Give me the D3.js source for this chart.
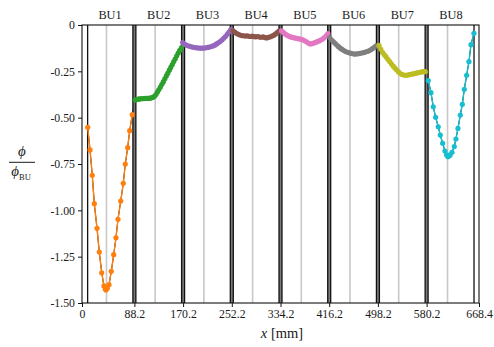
<!DOCTYPE html>
<html><head><meta charset="utf-8">
<script src="https://cdn.jsdelivr.net/npm/d3@7/dist/d3.min.js"></script>
<style>
body{margin:0;background:#fff}
svg{display:block}
text{font-family:"Liberation Serif","DejaVu Serif",serif;fill:#1a1a1a}
</style>
</head><body>
<svg id="c" width="494" height="347"></svg>
<script>
// ---------- data ----------
const buNames = ["BU1","BU2","BU3","BU4","BU5","BU6","BU7","BU8"];
const buColors = ["#ff7f0e","#2ca02c","#9467bd","#8c564b","#e377c2","#7f7f7f","#bcbd22","#17becf"];
const xTickValues = [0, 88.2, 170.2, 252.2, 334.2, 416.2, 498.2, 580.2, 668.4];
const yTickValues = [0, -0.25, -0.5, -0.75, -1.0, -1.25, -1.5];
const yTickLabels = ["0","-0.25","-0.50","-0.75","-1.00","-1.25","-1.50"];
const boundaryCenters = [88.2, 170.2, 252.2, 334.2, 416.2, 498.2, 580.2];
const endLines = [9.5, 660];
const midLines = [41.2, 123.2, 205.2, 287.2, 369.2, 451.2, 533.2, 615.4];
const labelCenters = [47.2, 129.2, 211.2, 293.2, 375.2, 457.2, 539.2, 621.2];

const bu1X = [9.6,13.5,17.3,20.7,25.3,29.1,33.2,37.0,39.2,40.4,42.6,45.5,49.3,53.4,57.2,60.6,65.2,69.5,72.9,76.9,80.3,84.7];
const bu1Y = [-0.552,-0.674,-0.811,-0.964,-1.097,-1.225,-1.337,-1.408,-1.425,-1.430,-1.421,-1.401,-1.329,-1.239,-1.148,-1.048,-0.950,-0.854,-0.750,-0.662,-0.570,-0.484];

const bu2X = [89.5,92,94.5,97,99.5,102,104.5,107,109.5,112,114.5,117,119.5,122,124.5,127,129.5,132,134.5,137,139.5,142,144.5,147,149.5,152,154.5,157,159.5,162,164.5,167.5];
const bu2Y = [-0.405,-0.402,-0.400,-0.399,-0.398,-0.397,-0.397,-0.396,-0.396,-0.396,-0.395,-0.393,-0.390,-0.385,-0.375,-0.362,-0.348,-0.335,-0.320,-0.306,-0.290,-0.275,-0.260,-0.244,-0.229,-0.213,-0.197,-0.182,-0.166,-0.151,-0.137,-0.122];

const bu3X = [169.5,172.5,175.5,178.5,181.5,184.5,187.5,190.5,193.5,196.5,199.5,202.5,205.5,208.5,211.5,214.5,217.5,220.5,223.5,226.5,229.5,232.5,235.5,238.5,241.5,244.5,247.5,250.5];
const bu3Y = [-0.095,-0.103,-0.108,-0.112,-0.115,-0.118,-0.120,-0.122,-0.123,-0.124,-0.125,-0.125,-0.124,-0.123,-0.121,-0.119,-0.116,-0.113,-0.109,-0.102,-0.096,-0.089,-0.081,-0.072,-0.062,-0.050,-0.038,-0.025];

const bu4X = [254,257,260,263,266,269,272,275,278,281,284,287,290,293,296,299,302,305,308,311,314,317,320,323,326,329,332];
const bu4Y = [-0.030,-0.038,-0.045,-0.050,-0.054,-0.057,-0.058,-0.060,-0.058,-0.061,-0.062,-0.060,-0.063,-0.064,-0.062,-0.065,-0.066,-0.064,-0.068,-0.070,-0.066,-0.064,-0.060,-0.055,-0.048,-0.040,-0.031];

const bu5X = [336,339,342,345,348,351,354,357,360,363,366,369,372,375,378,381,384,387,390,393,396,399,402,405,408,411,414];
const bu5Y = [-0.031,-0.040,-0.048,-0.055,-0.060,-0.064,-0.067,-0.069,-0.071,-0.073,-0.075,-0.077,-0.080,-0.085,-0.091,-0.097,-0.102,-0.101,-0.098,-0.094,-0.090,-0.086,-0.081,-0.076,-0.068,-0.058,-0.046];

const bu6X = [417,420,423,426,429,432,435,438,441,444,447,450,453,456,459,462,465,468,471,474,477,480,483,486,489,492,495];
const bu6Y = [-0.068,-0.080,-0.090,-0.099,-0.108,-0.117,-0.125,-0.132,-0.138,-0.143,-0.147,-0.150,-0.153,-0.155,-0.157,-0.156,-0.155,-0.153,-0.151,-0.149,-0.146,-0.143,-0.139,-0.134,-0.128,-0.121,-0.113];

const bu7X = [500,503,506,509,512,515,518,521,524,527,530,533,536,539,542,545,548,551,554,557,560,563,566,569,572,575,578];
const bu7Y = [-0.110,-0.130,-0.148,-0.160,-0.172,-0.185,-0.197,-0.210,-0.222,-0.233,-0.243,-0.253,-0.262,-0.267,-0.270,-0.271,-0.270,-0.268,-0.266,-0.264,-0.262,-0.260,-0.257,-0.255,-0.253,-0.252,-0.252];

const bu8X = [583,587.5,591.4,595.4,599.8,603.2,607.2,611.1,613.9,616.2,618.4,619.9,622.9,626.8,629.6,633,636.9,640.3,643.6,647.6,651.5,654.9,659.9];
const bu8Y = [-0.300,-0.365,-0.441,-0.498,-0.549,-0.594,-0.638,-0.680,-0.701,-0.711,-0.705,-0.701,-0.687,-0.656,-0.615,-0.558,-0.486,-0.428,-0.347,-0.271,-0.198,-0.106,-0.045];

const seriesX = [bu1X,bu2X,bu3X,bu4X,bu5X,bu6X,bu7X,bu8X];
const seriesY = [bu1Y,bu2Y,bu3Y,bu4Y,bu5Y,bu6Y,bu7Y,bu8Y];

// ---------- chart ----------
const svg = d3.select("#c");
const L = 82, R = 479, T = 25, B = 303;
const x = d3.scaleLinear().domain([0, 668.4]).range([L, R]);
const y = d3.scaleLinear().domain([-1.5, 0]).range([B, T]);

// mid (grey) lines
svg.append("g").selectAll("line").data(midLines).join("line")
  .attr("x1", d => x(d)).attr("x2", d => x(d)).attr("y1", T).attr("y2", B)
  .attr("stroke", "#c8c8c8").attr("stroke-width", 1.6);

// black connecting line under everything
const allPts = [];
seriesX.forEach((xs, i) => xs.forEach((v, j) => allPts.push([v, seriesY[i][j]])));
const line = d3.line().x(d => x(d[0])).y(d => y(d[1]));
svg.append("path").attr("d", line(allPts)).attr("fill", "none").attr("stroke", "#000").attr("stroke-width", 1);

// boundary double lines
const bg = svg.append("g");
boundaryCenters.forEach(c => {
  bg.append("rect").attr("x", x(c - 2.5)).attr("y", T).attr("width", x(c + 2.5) - x(c - 2.5)).attr("height", B - T)
    .attr("fill", "#7a7a7a");
  [c - 2.5, c + 2.5].forEach(v => bg.append("line").attr("x1", x(v)).attr("x2", x(v)).attr("y1", T).attr("y2", B)
    .attr("stroke", "#111").attr("stroke-width", 1.3));
});
endLines.forEach(v => bg.append("line").attr("x1", x(v)).attr("x2", x(v)).attr("y1", T).attr("y2", B)
  .attr("stroke", "#111").attr("stroke-width", 1.3));

// series
seriesX.forEach((xs, i) => {
  const pts = xs.map((v, j) => [v, seriesY[i][j]]);
  const g = svg.append("g");
  g.append("path").attr("d", line(pts)).attr("fill", "none").attr("stroke", buColors[i]).attr("stroke-width", 1.4);
  g.selectAll("circle").data(pts).join("circle")
    .attr("cx", d => x(d[0])).attr("cy", d => y(d[1])).attr("r", 2.6).attr("fill", buColors[i]);
});

// frame
svg.append("rect").attr("x", L).attr("y", T).attr("width", R - L).attr("height", B - T)
  .attr("fill", "none").attr("stroke", "#111").attr("stroke-width", 1.1);

// axes
const xAxis = d3.axisBottom(x).tickValues(xTickValues).tickFormat(d => d === 0 ? "0" : d3.format(".1f")(d)).tickSize(4).tickSizeOuter(0);
const gx = svg.append("g").attr("transform", `translate(0,${B})`).call(xAxis);
gx.select(".domain").remove();
gx.selectAll("line").attr("stroke", "#111");
gx.selectAll("text").attr("font-size", 11.8).attr("font-family", "Liberation Serif").attr("fill", "#1a1a1a").attr("dy", "0.85em").attr("y", 5);

const yAxis = d3.axisLeft(y).tickValues(yTickValues).tickFormat((d, i) => yTickLabels[i]).tickSize(4).tickSizeOuter(0);
const gy = svg.append("g").attr("transform", `translate(${L},0)`).call(yAxis);
gy.select(".domain").remove();
gy.selectAll("line").attr("stroke", "#111");
gy.selectAll("text").attr("font-size", 11.8).attr("font-family", "Liberation Serif").attr("fill", "#1a1a1a").attr("x", -7);

// BU labels
svg.append("g").selectAll("text").data(buNames).join("text")
  .attr("x", (d, i) => x(labelCenters[i])).attr("y", 19).attr("text-anchor", "middle")
  .attr("font-size", 12.3).text(d => d);

// x label
const xl = svg.append("text").attr("x", 282).attr("y", 338).attr("text-anchor", "middle").attr("font-size", 14.5);
xl.append("tspan").attr("font-style", "italic").text("x");
xl.append("tspan").text(" [mm]");

// y label (fraction)
svg.append("text").attr("x", 22).attr("y", 156).attr("text-anchor", "middle").attr("font-size", 15).attr("font-style", "italic").text("ϕ");
svg.append("line").attr("x1", 9).attr("x2", 35).attr("y1", 162.3).attr("y2", 162.3).attr("stroke", "#1a1a1a").attr("stroke-width", 1);
const yl = svg.append("text").attr("x", 21).attr("y", 176).attr("text-anchor", "middle").attr("font-size", 15);
yl.append("tspan").attr("font-style", "italic").text("ϕ");
yl.append("tspan").attr("font-size", 8.5).attr("dy", 4).text("BU");
</script>
</body></html>
